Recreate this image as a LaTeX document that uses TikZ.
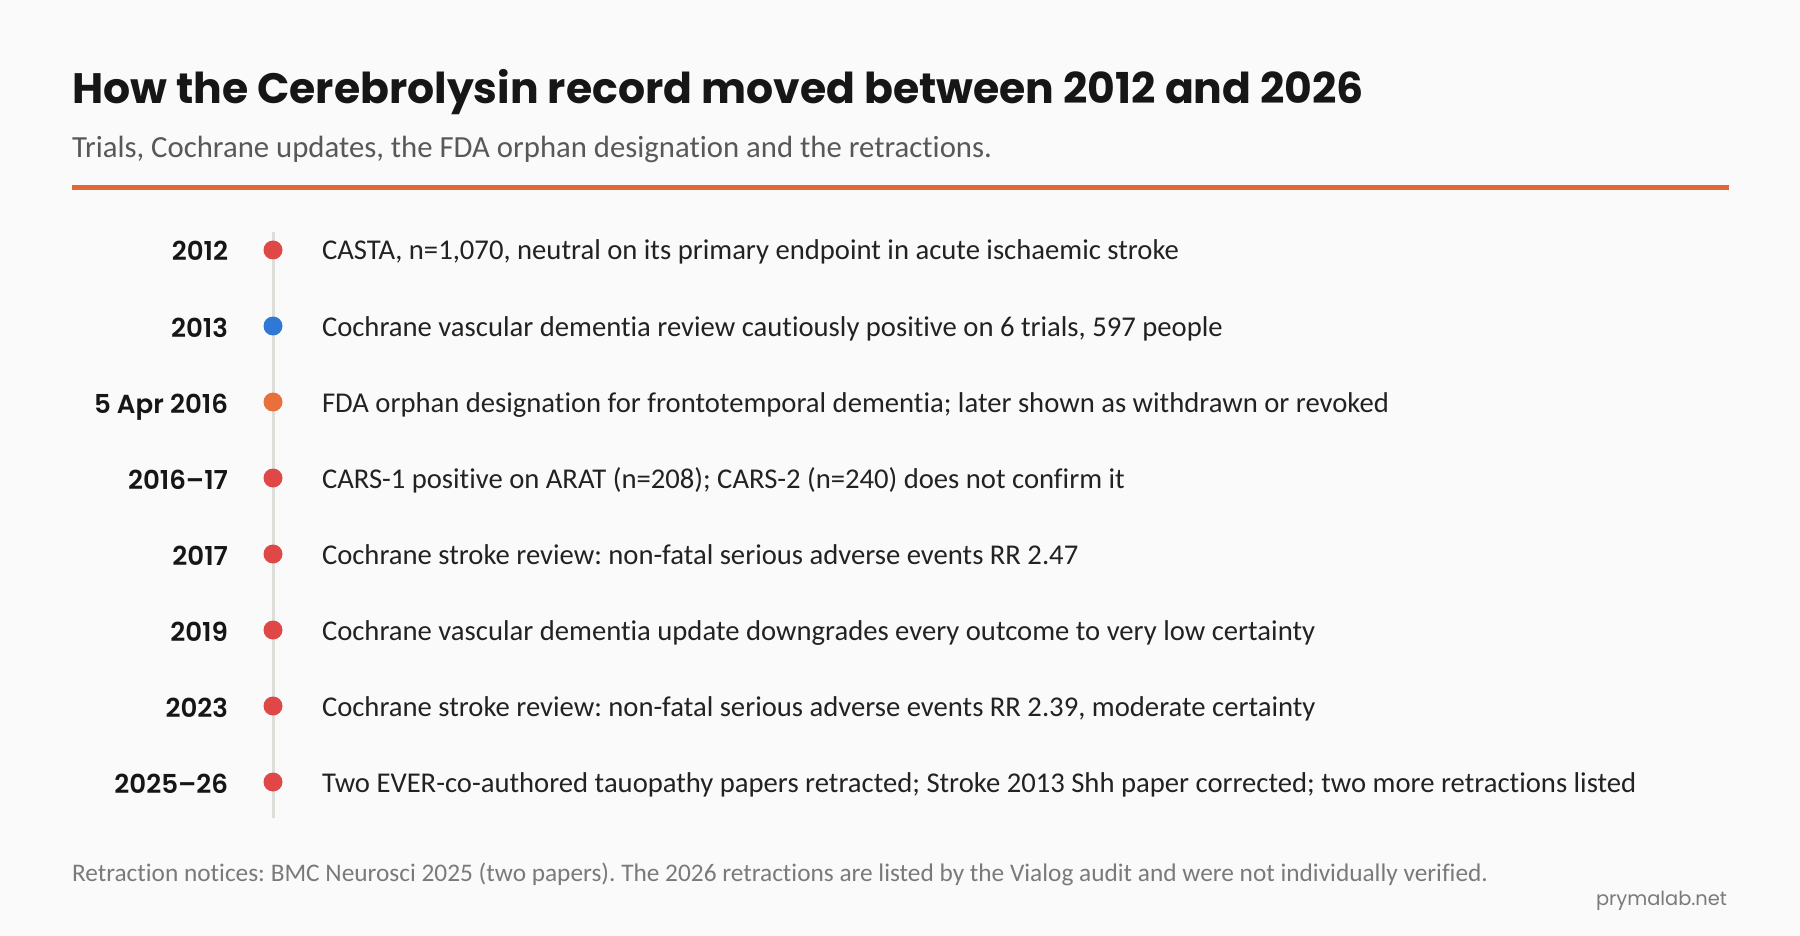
\documentclass[tikz,border=0pt]{standalone}
\usepackage{fontspec}
\setmainfont{Carlito}[RawFeature=-liga]
\newfontfamily\headfont{Poppins}
\newfontfamily\headsemi{Poppins}[UprightFont=* SemiBold]
\definecolor{bgc}{HTML}{FAFAFA}
\definecolor{ink}{HTML}{161616}
\definecolor{bodyink}{HTML}{222222}
\definecolor{subink}{HTML}{585858}
\definecolor{footink}{HTML}{7A7A7A}
\definecolor{rulec}{HTML}{E2683A}
\definecolor{linec}{HTML}{DDDDDA}
\definecolor{dotred}{HTML}{E04848}
\definecolor{dotblue}{HTML}{2F78D6}
\definecolor{dotorange}{HTML}{E8703A}
\newlength\mytmpw
\newcommand\mycalc[4]{\settowidth\mytmpw{#2\fontsize{10}{12}\selectfont #3}\pgfmathsetmacro#1{10*#4/\the\mytmpw}\global\let#1#1}
\frenchspacing
\begin{document}
\frenchspacing
\mycalc{\titlesz}{\headfont\bfseries}{How the Cerebrolysin record moved between 2012 and 2026}{1292}%
\mycalc{\subsz}{}{Trials, Cochrane updates, the FDA orphan designation and the retractions.}{920}%
\mycalc{\evsz}{}{CASTA, n=1,070, neutral on its primary endpoint in acute ischaemic stroke}{857}%
\mycalc{\yrsz}{\headsemi}{5 Apr 2016}{134}%
\mycalc{\footsz}{}{Retraction notices: BMC Neurosci 2025 (two papers). The 2026 retractions are listed by the Vialog audit and were not individually verified.}{1416}%
\mycalc{\brandsz}{\headfont}{prymalab.net}{131}%
\begin{tikzpicture}[x=1pt,y=-1pt,
  txt/.style={inner sep=0pt, outer sep=0pt},
  evdot/.style={circle, inner sep=0pt, minimum size=19pt, fill=#1},
  titlef/.style={txt, font=\headfont\bfseries\fontsize{\titlesz}{\titlesz}\selectfont, text=ink},
  subf/.style={txt, font=\fontsize{\subsz}{\subsz}\selectfont, text=subink},
  evf/.style={txt, font=\fontsize{\evsz}{\evsz}\selectfont, text=bodyink},
  yrf/.style={txt, font=\headsemi\fontsize{\yrsz}{\yrsz}\selectfont, text=ink},
  footf/.style={txt, font=\fontsize{\footsz}{\footsz}\selectfont, text=footink},
  brandf/.style={txt, font=\headfont\fontsize{\brandsz}{\brandsz}\selectfont, text=footink},
]
\fill[bgc] (0,0) rectangle (1800,936);
\useasboundingbox (0,0) rectangle (1800,936);

\node[titlef, anchor=base west] (title) at (72,104) {How the Cerebrolysin record moved between 2012 and 2026};
\node[subf, anchor=base west] (subtitle) at (72,158) {Trials, Cochrane updates, the FDA orphan designation and the retractions.};
\coordinate (ruleL) at (72,187.7);
\coordinate (ruleR) at (1729,187.7);
\draw[rulec, line width=4.5pt] (ruleL) -- (ruleR);

\coordinate (tltop) at (273,232);
\coordinate (tlbot) at (273,818);
\draw[linec, line width=3pt] (tltop) -- (tlbot);

\node[evdot=dotred]    (d1) at (273,250) {};
\node[evdot=dotblue]   (d2) at (273,326) {};
\node[evdot=dotorange] (d3) at (273,402) {};
\node[evdot=dotred]    (d4) at (273,478) {};
\node[evdot=dotred]    (d5) at (273,554) {};
\node[evdot=dotred]    (d6) at (273,630) {};
\node[evdot=dotred]    (d7) at (273,706) {};
\node[evdot=dotred]    (d8) at (273,782) {};

\node[yrf, anchor=base east] (y1) at (228,261) {2012};
\node[yrf, anchor=base east] (y2) at (228,337) {2013};
\node[yrf, anchor=base east] (y3) at (228,413) {5 Apr 2016};
\node[yrf, anchor=base east] (y4) at (228,489) {2016–17};
\node[yrf, anchor=base east] (y5) at (228,565) {2017};
\node[yrf, anchor=base east] (y6) at (228,641) {2019};
\node[yrf, anchor=base east] (y7) at (228,717) {2023};
\node[yrf, anchor=base east] (y8) at (228,793) {2025–26};

\node[evf, anchor=base west] (e1) at (322,260) {CASTA, n=1,070, neutral on its primary endpoint in acute ischaemic stroke};
\node[evf, anchor=base west] (e2) at (322,336) {Cochrane vascular dementia review cautiously positive on 6 trials, 597 people};
\node[evf, anchor=base west] (e3) at (322,412) {FDA orphan designation for frontotemporal dementia; later shown as withdrawn or revoked};
\node[evf, anchor=base west] (e4) at (322,488) {CARS-1 positive on ARAT (n=208); CARS-2 (n=240) does not confirm it};
\node[evf, anchor=base west] (e5) at (322,564) {Cochrane stroke review: non-fatal serious adverse events RR 2.47};
\node[evf, anchor=base west] (e6) at (322,640) {Cochrane vascular dementia update downgrades every outcome to very low certainty};
\node[evf, anchor=base west] (e7) at (322,716) {Cochrane stroke review: non-fatal serious adverse events RR 2.39, moderate certainty};
\node[evf, anchor=base west] (e8) at (322,792) {Two EVER-co-authored tauopathy papers retracted; Stroke 2013 Shh paper corrected; two more retractions listed};

\node[footf, anchor=base west] (foot) at (72,881) {Retraction notices: BMC Neurosci 2025 (two papers). The 2026 retractions are listed by the Vialog audit and were not individually verified.};
\node[brandf, anchor=base east] (brand) at (1727,905) {prymalab.net};
\end{tikzpicture}
\end{document}
